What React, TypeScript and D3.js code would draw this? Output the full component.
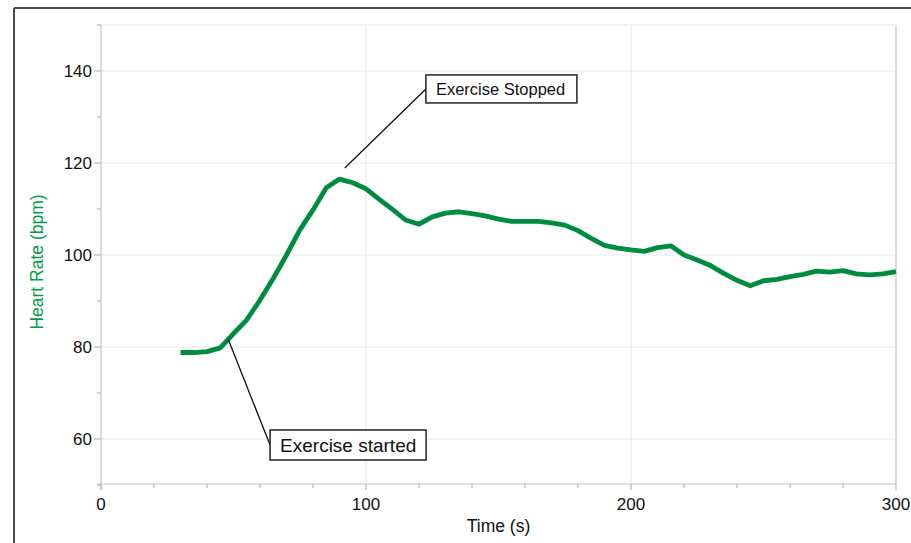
import React from 'react';
import * as d3 from 'd3';

const times = [30, 35, 40, 45, 50, 55, 60, 65, 70, 75, 80, 85, 90, 95, 100, 105, 110, 115, 120, 125, 130, 135, 140, 145, 150, 155, 160, 165, 170, 175, 180, 185, 190, 195, 200, 205, 210, 215, 220, 225, 230, 235, 240, 245, 250, 255, 260, 265, 270, 275, 280, 285, 290, 295, 300];
const heartRate = [78.8, 78.8, 79.0, 79.8, 82.9, 85.9, 90.2, 94.9, 100.0, 105.4, 109.8, 114.6, 116.5, 115.7, 114.4, 112.1, 109.9, 107.6, 106.7, 108.3, 109.1, 109.4, 109.0, 108.5, 107.8, 107.3, 107.3, 107.3, 107.0, 106.5, 105.3, 103.6, 102.1, 101.5, 101.1, 100.8, 101.6, 102.0, 100.0, 98.9, 97.7, 96.0, 94.5, 93.3, 94.4, 94.7, 95.3, 95.8, 96.5, 96.3, 96.6, 95.9, 95.7, 95.9, 96.4];

const yLabelTicks = [60, 80, 100, 120, 140];
const yMinorTicks = [50, 70, 90, 110, 130, 150];
const xLabelTicks = [0, 100, 200, 300];
const xMinorTicks = [20, 40, 60, 80, 120, 140, 160, 180, 220, 240, 260, 280];

const annotationTexts = ['Exercise Stopped', 'Exercise started'];
const annotationAnchorTimes = [92, 48];
const annotationAnchorValues = [118.9, 81.7];
const annotationBoxTimes = [122.6, 63.8];
const annotationBoxValues = [136.1, 58.7];

const W = 911;
const H = 543;
const FONT = 'Liberation Sans, Arial, sans-serif';

export default function App() {
  const x = d3.scaleLinear().domain([0, 300]).range([101, 896]);
  const y = d3.scaleLinear().domain([50, 150]).range([485, 25]);
  const [x0, x1] = x.range();
  const [y0, y1] = y.range();

  const line = d3
    .line<number>()
    .x((_, i) => x(times[i]))
    .y((d) => y(d))
    .curve(d3.curveLinear);

  const boxW = [151, 156];
  const boxH = [28, 30];
  const fontSizes = [16.5, 19];

  return (
    <svg
      width={W}
      height={H}
      style={{ position: 'absolute', left: 0, top: 0, background: '#fff' }}
      fontFamily={FONT}
    >
      <rect x={0} y={0} width={W} height={H} fill="#fff" />
      {/* outer frame */}
      <line x1={14} y1={8} x2={W} y2={8} stroke="#4a4a4a" strokeWidth={2} />
      <line x1={14} y1={8} x2={14} y2={H} stroke="#4a4a4a" strokeWidth={2} />

      {/* grid */}
      {yLabelTicks.map((t) => (
        <line key={'gy' + t} x1={x0} x2={x1} y1={y(t)} y2={y(t)} stroke="#e8e8e8" strokeWidth={1} />
      ))}
      <line x1={x0 - 4} x2={x1} y1={y1} y2={y1} stroke="#e3e3e3" strokeWidth={1.2} />
      {[100, 200].map((t) => (
        <line key={'gx' + t} x1={x(t)} x2={x(t)} y1={y1} y2={y0} stroke="#e8e8e8" strokeWidth={1} />
      ))}
      <line x1={x1} x2={x1} y1={y1} y2={y0} stroke="#d0d0d0" strokeWidth={1.5} />

      {/* axes */}
      <line x1={x0} x2={x0} y1={y1} y2={y0 + 5} stroke="#c4c4c4" strokeWidth={1.2} />
      <line x1={x0 - 4} x2={x1} y1={y0 - 1} y2={y0 - 1} stroke="#c4c4c4" strokeWidth={1.2} />

      {yLabelTicks.map((t) => (
        <g key={'yt' + t}>
          <line x1={x0 - 7} x2={x0} y1={y(t)} y2={y(t)} stroke="#b8b8b8" strokeWidth={1.2} />
          <text x={x0 - 9} y={y(t)} dy="0.35em" textAnchor="end" fontSize={17} fill="#111">
            {t}
          </text>
        </g>
      ))}
      {yMinorTicks.map((t) => (
        <line key={'ym' + t} x1={x0 - 4} x2={x0} y1={y(t)} y2={y(t)} stroke="#b8b8b8" strokeWidth={1.2} />
      ))}
      {xLabelTicks.map((t) => (
        <g key={'xt' + t}>
          <line x1={x(t)} x2={x(t)} y1={y0 - 1} y2={y0 + 5} stroke="#b8b8b8" strokeWidth={1.2} />
          <text x={x(t)} y={510} textAnchor="middle" fontSize={17} fill="#111">
            {t}
          </text>
        </g>
      ))}
      {xMinorTicks.map((t) => (
        <line key={'xm' + t} x1={x(t)} x2={x(t)} y1={y0 - 1} y2={y0 + 3} stroke="#b8b8b8" strokeWidth={1.2} />
      ))}

      <text x={(x0 + x1) / 2} y={532} textAnchor="middle" fontSize={17.5} fill="#111">
        Time (s)
      </text>
      <text
        transform={`translate(43, ${262}) rotate(-90)`}
        textAnchor="middle"
        fontSize={17.5}
        fill="#00a04a"
      >
        Heart Rate (bpm)
      </text>

      {/* data line */}
      <path d={line(heartRate) || ''} fill="none" stroke="#008c3e" strokeWidth={4.8} strokeLinejoin="round" strokeLinecap="butt" />

      {/* annotations */}
      {annotationTexts.map((txt, i) => {
        const ax = x(annotationAnchorTimes[i]);
        const ay = y(annotationAnchorValues[i]);
        const bx = x(annotationBoxTimes[i]);
        const by = y(annotationBoxValues[i]);
        return (
          <g key={'an' + i}>
            <line x1={ax} y1={ay} x2={bx} y2={by} stroke="#111" strokeWidth={1.3} />
            <rect
              x={bx}
              y={by - boxH[i] / 2}
              width={boxW[i]}
              height={boxH[i]}
              fill="#fff"
              stroke="#222"
              strokeWidth={1.5}
            />
            <text
              x={bx + 10}
              y={by}
              dy="0.36em"
              fontSize={fontSizes[i]}
              fill="#111"
            >
              {txt}
            </text>
          </g>
        );
      })}
    </svg>
  );
}
